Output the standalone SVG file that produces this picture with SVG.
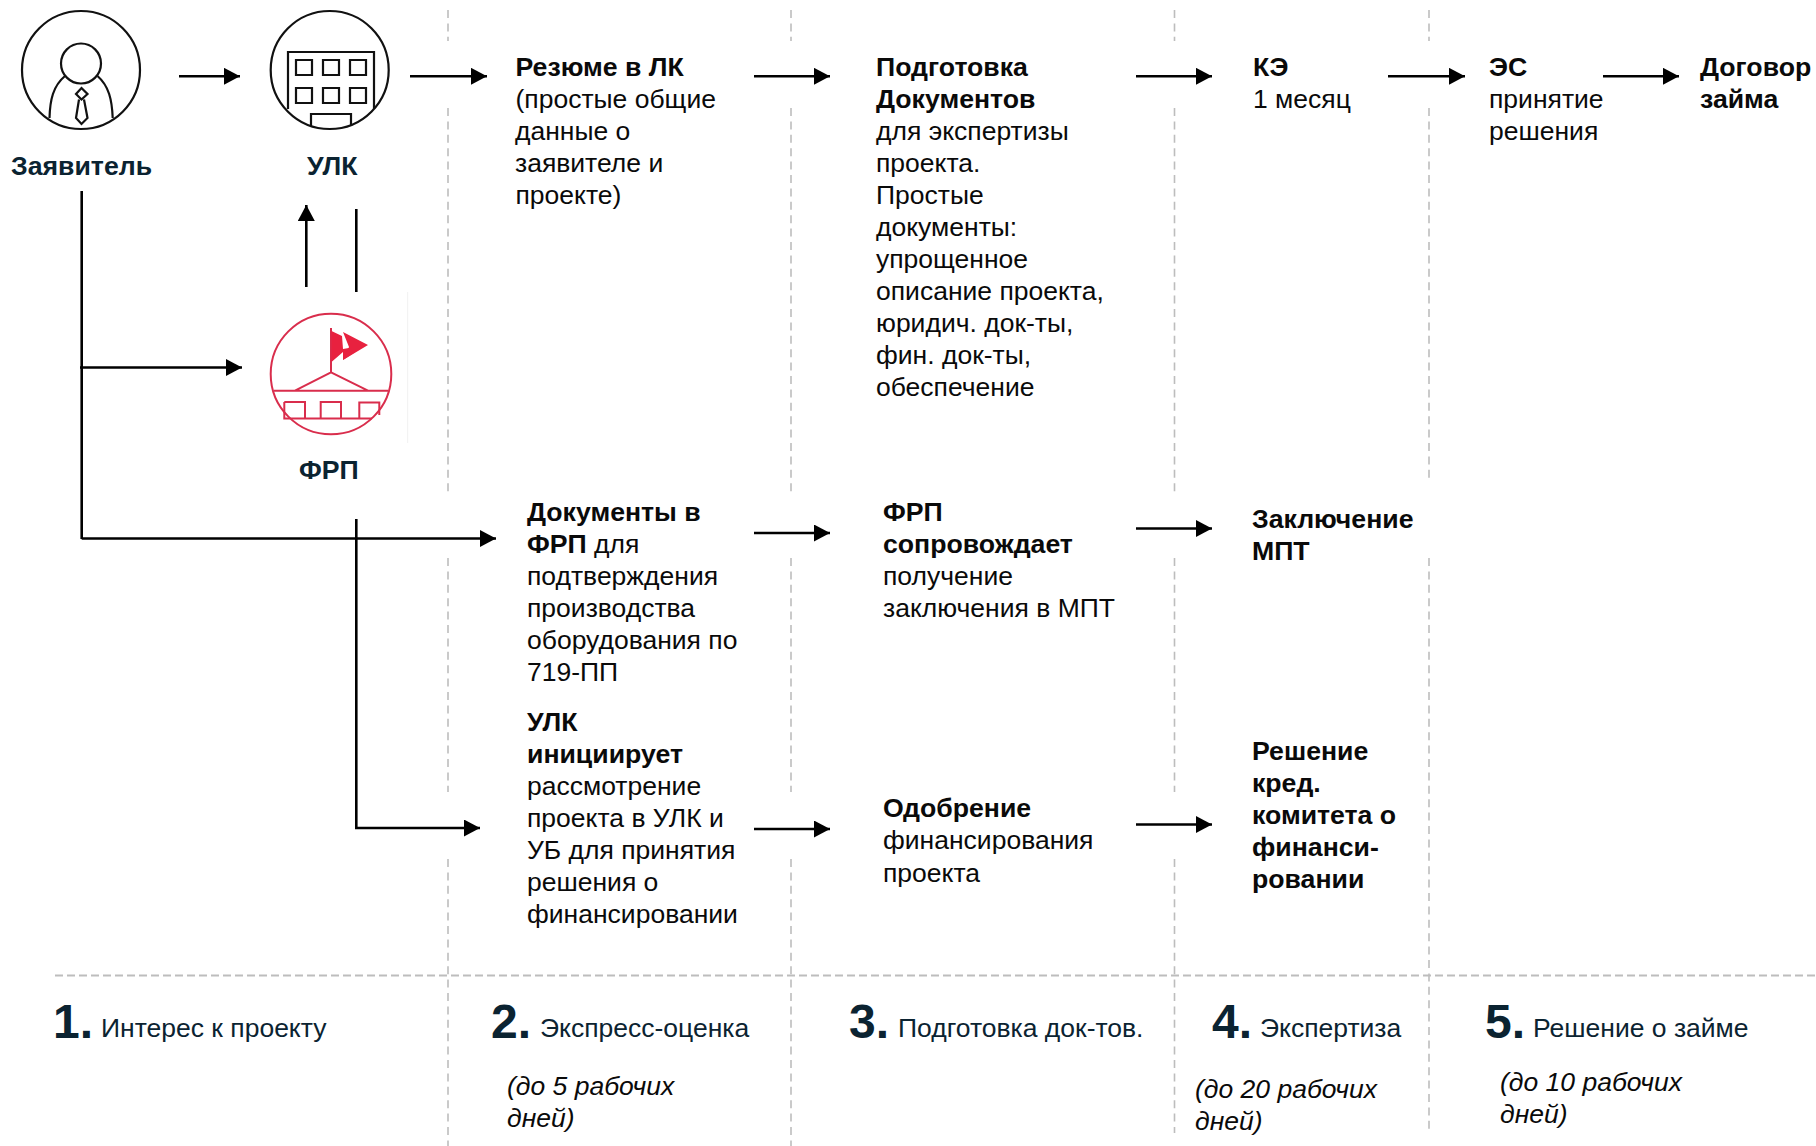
<svg xmlns="http://www.w3.org/2000/svg" width="1816" height="1146" viewBox="0 0 1816 1146">
<style>
text{font-family:"Liberation Sans",Arial,sans-serif;font-size:26.5px;fill:#0a0a0a}
.b{font-weight:700;font-size:26.67px}
.lab{font-weight:700;font-size:26.67px;fill:#0b2331}
.num{font-weight:700;font-size:48px;fill:#0b2331}
.step{fill:#0b2331}
.it{font-style:italic}
.dash{fill:none;stroke:#bdbdbd;stroke-width:1.6;stroke-dasharray:8 5.4}
.hd{fill:none;stroke:#bdbdbd;stroke-width:2;stroke-dasharray:8 4}
.con{fill:none;stroke:#000;stroke-width:2.6}
.ico{fill:none;stroke:#111;stroke-width:2.2}
.red{fill:none;stroke:#d92d4c;stroke-width:2}
</style>
<defs>
<marker id="ah" markerUnits="userSpaceOnUse" markerWidth="16" markerHeight="17" refX="16" refY="8.5" orient="auto"><path d="M0 0L16 8.5L0 17Z" fill="#000"/></marker>
</defs>
<rect width="1816" height="1146" fill="#fff"/>
<g id="grid">
<path class="dash" d="M448 10V41M448 108V493M448 558V792M448 859V1146"/>
<path class="dash" d="M791 10V41M791 108V493M791 558V792M791 859V1146"/>
<path class="dash" d="M1174.500 10V41M1174.500 108V493M1174.500 558V792M1174.500 859V1133"/>
<path class="dash" d="M1429 10V41M1429 108V479M1429 558V1130"/>
<path class="hd" d="M55 975.5H1816"/>
</g>
<g id="connectors">
<path class="con" marker-end="url(#ah)" d="M179 76.300H240"/>
<path class="con" marker-end="url(#ah)" d="M410 76.300H487"/>
<path class="con" marker-end="url(#ah)" d="M754 76.300H830"/>
<path class="con" marker-end="url(#ah)" d="M1136 76.300H1212"/>
<path class="con" marker-end="url(#ah)" d="M1388 76.300H1465"/>
<path class="con" marker-end="url(#ah)" d="M1603 76.300H1679"/>
<path class="con" marker-end="url(#ah)" d="M306.300 287V205"/>
<path class="con" d="M356.300 209V292"/>
<path class="con" d="M81.700 191V539"/>
<path class="con" marker-end="url(#ah)" d="M80 367.500H242"/>
<path class="con" marker-end="url(#ah)" d="M81.700 538.500H496"/>
<path class="con" marker-end="url(#ah)" d="M356.300 519V828H480"/>
<path class="con" marker-end="url(#ah)" d="M754 533H830"/>
<path class="con" marker-end="url(#ah)" d="M1136 528.500H1212"/>
<path class="con" marker-end="url(#ah)" d="M754 829H830"/>
<path class="con" marker-end="url(#ah)" d="M1136 824.500H1212"/>
</g>
<g id="applicant">
<circle class="ico" cx="81" cy="70" r="59"/>
<circle class="ico" cx="81" cy="63.500" r="20"/>
<path class="ico" d="M49.500 118C50 100 53 86 65 76M112.700 118C112 100 109 86 97.500 76"/>
<path class="ico" d="M81.500 88L87.500 94L81.500 99.500L76 94ZM79 99.500L76 118L81.500 124L87.500 118L84 99.500"/>
<text class="lab" x="11" y="175">Заявитель</text>
</g>
<g id="ulk">
<circle class="ico" cx="329.700" cy="70" r="59"/>
<path class="ico" d="M288 109V52H374V109"/>
<path class="ico" d="M296 60h16v15h-16zM323 60h16v15h-16zM350 60h16v15h-16zM296 88h16v15h-16zM323 88h16v15h-16zM350 88h16v15h-16zM311 126V114H351V126"/>
<text class="lab" x="307" y="175">УЛК</text>
</g>
<g id="frp">
<path d="M407.700 292V443" stroke="#f1f1f1" stroke-width="1" fill="none"/>
<circle class="red" cx="331" cy="374" r="60.300"/>
<path class="red" d="M274 390.700H388M295 390.700L331 372.300L368 390.700M331 372.300V328M284.300 402V418.500H305V402H284.300M320.700 418.500V402H341V418.500M359.300 418.500V402.500H379.300V415M285 418.500H372"/>
<path d="M331.500 331L342 336L343 349L366 345L343 360L343 352L331.500 362Z" fill="#e8213f"/>
<path d="M343 332L368 345L343 360L349 347Z" fill="#e8213f"/>
<text class="lab" x="299" y="479">ФРП</text>
</g>
<g id="s1-resume"><text><tspan class="b" x="515.500" y="76">Резюме в ЛК</tspan><tspan x="515.500" y="108">(простые общие</tspan><tspan x="515" y="140">данные о</tspan><tspan x="515" y="172">заявителе и</tspan><tspan x="515.500" y="204">проекте)</tspan></text></g>
<g id="s1-docs"><text><tspan class="b" x="876" y="76">Подготовка</tspan><tspan class="b" x="876" y="108">Документов</tspan><tspan x="876" y="140">для экспертизы</tspan><tspan x="876" y="172">проекта.</tspan><tspan x="876" y="204">Простые</tspan><tspan x="876" y="236">документы:</tspan><tspan x="876" y="268">упрощенное</tspan><tspan x="876" y="300">описание проекта,</tspan><tspan x="876" y="332">юридич. док-ты,</tspan><tspan x="876" y="364">фин. док-ты,</tspan><tspan x="876" y="396">обеспечение</tspan></text></g>
<g id="s1-ke"><text><tspan class="b" x="1253" y="76">КЭ</tspan><tspan x="1253" y="108">1 месяц</tspan></text></g>
<g id="s1-es"><text><tspan class="b" x="1489" y="76">ЭС</tspan><tspan x="1489" y="108">принятие</tspan><tspan x="1489" y="140">решения</tspan></text></g>
<g id="s1-contract"><text><tspan class="b" x="1700" y="76">Договор</tspan><tspan class="b" x="1700" y="108">займа</tspan></text></g>
<g id="s2-docs"><text><tspan class="b" x="527" y="521">Документы в</tspan><tspan class="b" x="527" y="553">ФРП</tspan><tspan> для</tspan><tspan x="527" y="585">подтверждения</tspan><tspan x="527" y="617">производства</tspan><tspan x="527" y="649">оборудования по</tspan><tspan x="527" y="681">719-ПП</tspan></text></g>
<g id="s2-ulk"><text><tspan class="b" x="527" y="731">УЛК</tspan><tspan class="b" x="527" y="763">инициирует</tspan><tspan x="527" y="795">рассмотрение</tspan><tspan x="527" y="827">проекта в УЛК и</tspan><tspan x="527" y="859">УБ для принятия</tspan><tspan x="527" y="891">решения о</tspan><tspan x="527" y="923">финансировании</tspan></text></g>
<g id="s3-frp"><text><tspan class="b" x="883" y="521">ФРП</tspan><tspan class="b" x="883" y="553">сопровождает</tspan><tspan x="883" y="585">получение</tspan><tspan x="883" y="617">заключения в МПТ</tspan></text></g>
<g id="s3-approve"><text><tspan class="b" x="883" y="817">Одобрение</tspan><tspan x="883" y="849">финансирования</tspan><tspan x="883" y="882">проекта</tspan></text></g>
<g id="s4-mpt"><text><tspan class="b" x="1252" y="528">Заключение</tspan><tspan class="b" x="1252" y="560">МПТ</tspan></text></g>
<g id="s4-credit"><text><tspan class="b" x="1252" y="760">Решение</tspan><tspan class="b" x="1252" y="792">кред.</tspan><tspan class="b" x="1252" y="824">комитета о</tspan><tspan class="b" x="1252" y="856">финанси-</tspan><tspan class="b" x="1252" y="888">ровании</tspan></text></g>
<g id="step1"><text class="num" x="53" y="1038">1.</text><text class="step" x="101" y="1037">Интерес к проекту</text></g>
<g id="step2"><text class="num" x="491" y="1038">2.</text><text class="step" x="540" y="1037">Экспресс-оценка</text><text class="it" x="507" y="1095">(до 5 рабочих</text><text class="it" x="507" y="1127">дней)</text></g>
<g id="step3"><text class="num" x="849" y="1038">3.</text><text class="step" x="898" y="1037">Подготовка док-тов.</text></g>
<g id="step4"><text class="num" x="1212" y="1038">4.</text><text class="step" x="1260" y="1037">Экспертиза</text><text class="it" x="1195" y="1098">(до 20 рабочих</text><text class="it" x="1195" y="1130">дней)</text></g>
<g id="step5"><text class="num" x="1485" y="1038">5.</text><text class="step" x="1533" y="1037">Решение о займе</text><text class="it" x="1500" y="1091">(до 10 рабочих</text><text class="it" x="1500" y="1123">дней)</text></g>
</svg>
